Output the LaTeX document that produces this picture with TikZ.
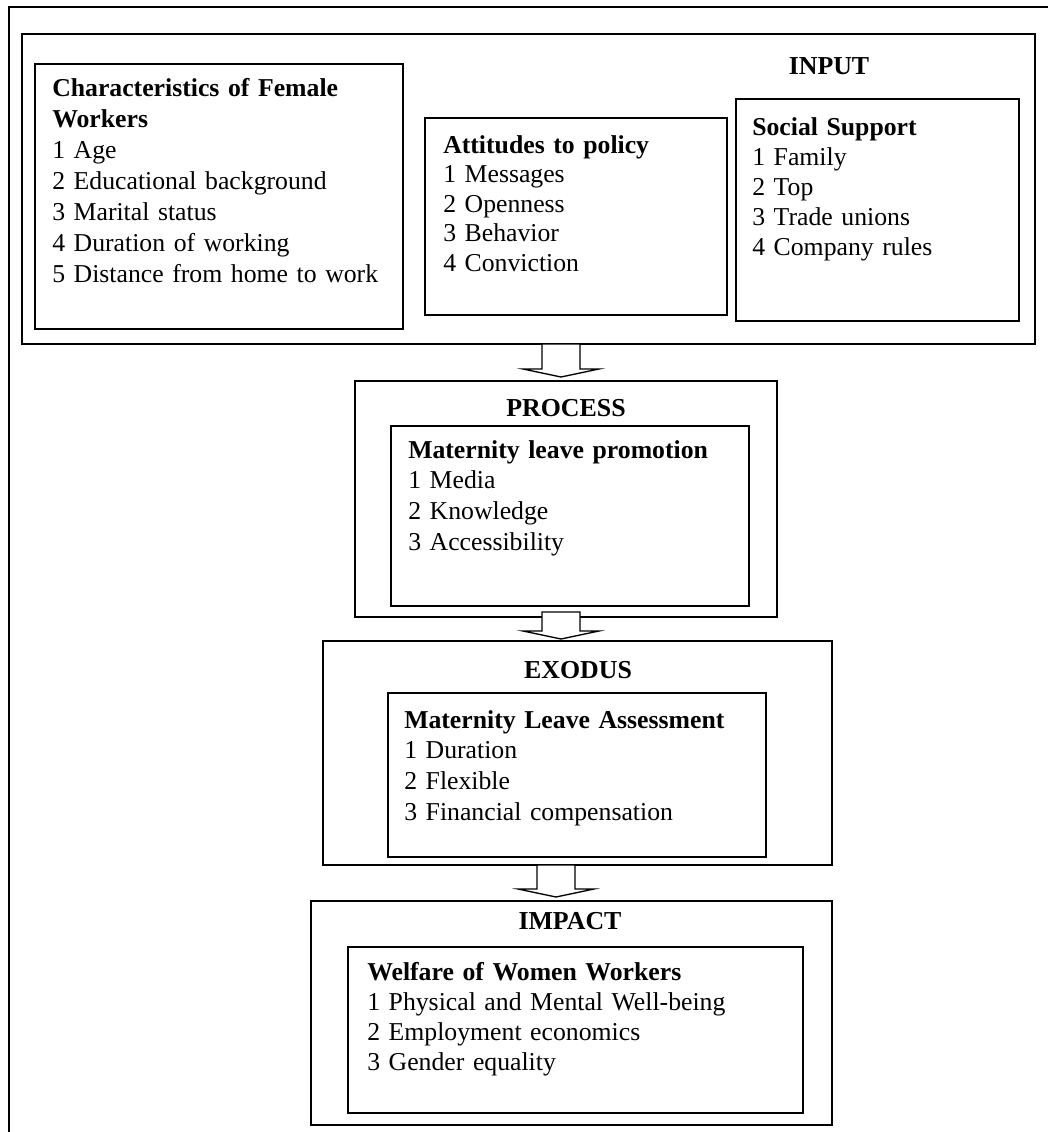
\documentclass[tikz,border=0pt]{standalone}
\usepackage{fontspec}
\setmainfont{Liberation Serif}
\usetikzlibrary{calc}
\begin{document}
\begin{tikzpicture}[x=0.75pt,y=-0.75pt,
  box/.style={draw, line width=1.2pt, fill=white, inner sep=0pt, outer sep=0pt, anchor=north west},
  ttl/.style={anchor=base, inner sep=0pt, font=\fontsize{19.4}{23}\selectfont\bfseries},
  txt/.style={anchor=base west, inner sep=0pt, text width=420pt, align=left},
  arr/.style={draw, line width=1pt, fill=white, line join=miter}]
\useasboundingbox (0,0) rectangle (1048,1132);
% outer frame (cut off at the right and bottom)
\draw[line width=1.2pt] (9,1140) -- (9,7) -- (1060,7);
% boxes
\node[box, minimum width=1013*0.75pt, minimum height=310*0.75pt] (input) at (22,34) {};
\node[box, minimum width=368*0.75pt, minimum height=265*0.75pt] (char) at (35,64) {};
\node[box, minimum width=302*0.75pt, minimum height=197*0.75pt] (att) at (425,118) {};
\node[box, minimum width=283*0.75pt, minimum height=222*0.75pt] (soc) at (736,99) {};
\node[box, minimum width=422*0.75pt, minimum height=236*0.75pt] (process) at (355,381) {};
\node[box, minimum width=358*0.75pt, minimum height=180*0.75pt] (procin) at (391,426) {};
\node[box, minimum width=509*0.75pt, minimum height=224*0.75pt] (exodus) at (323,641) {};
\node[box, minimum width=378*0.75pt, minimum height=164*0.75pt] (exin) at (388,693) {};
\node[box, minimum width=521*0.75pt, minimum height=224*0.75pt] (impact) at (311,901) {};
\node[box, minimum width=455*0.75pt, minimum height=166*0.75pt] (impin) at (348,947) {};
% titles
\node[ttl] (tin) at (829,74) {INPUT};
\node[ttl] (tpr) at (566,416) {PROCESS};
\node[ttl] (tex) at (578,678) {EXODUS};
\node[ttl] (tim) at (570,929) {IMPACT};
% texts
\node[txt, font=\fontsize{19.3}{23.25}\selectfont] (charT) at (52,96)
 {\textbf{Characteristics of Female}\\\textbf{Workers}\\1 Age\\2 Educational background\\3 Marital status\\4 Duration of working\\5 Distance from home to work};
\node[txt, font=\fontsize{19.3}{22.2}\selectfont] (attT) at (443,153)
 {\textbf{Attitudes to policy}\\1 Messages\\2 Openness\\3 Behavior\\4 Conviction};
\node[txt, font=\fontsize{19.3}{22.5}\selectfont] (socT) at (752,135)
 {\textbf{Social Support}\\1 Family\\2 Top\\3 Trade unions\\4 Company rules};
\node[txt, font=\fontsize{19.3}{23}\selectfont] (procT) at (408,458)
 {\textbf{Maternity leave promotion}\\1 Media\\2 Knowledge\\3 Accessibility};
\node[txt, font=\fontsize{19.3}{23}\selectfont] (exT) at (404,728)
 {\textbf{Maternity Leave Assessment}\\1 Duration\\2 Flexible\\3 Financial compensation};
\node[txt, font=\fontsize{19.3}{22.5}\selectfont] (imT) at (367,980)
 {\textbf{Welfare of Women Workers}\\1 Physical and Mental Well-being\\2 Employment economics\\3 Gender equality};
% block arrows
\coordinate (a1t) at (561,0 |- input.south);
\coordinate (a1p) at ($(561,0 |- process.north)+(0,-4)$);
\coordinate (a2t) at ($(561,0 |- process.south)+(0,-5)$);
\coordinate (a2p) at ($(561,0 |- exodus.north)+(0,-2)$);
\coordinate (a3t) at (556,0 |- exodus.south);
\coordinate (a3p) at ($(556,0 |- impact.north)+(0,-4)$);
\foreach \ta/\tb in {a1t/a1p, a2t/a2p, a3t/a3p}{
  \draw[arr] let \p1=(\ta), \p2=(\tb) in
   (\x1-14.25pt,\y1) -- (\x1-14.25pt,\y2+6pt) -- (\x1-28.5pt,\y2+6pt) -- (\x2,\y2)
   -- (\x1+28.5pt,\y2+6pt) -- (\x1+14.25pt,\y2+6pt) -- (\x1+14.25pt,\y1) -- cycle;
}
\end{tikzpicture}
\end{document}
